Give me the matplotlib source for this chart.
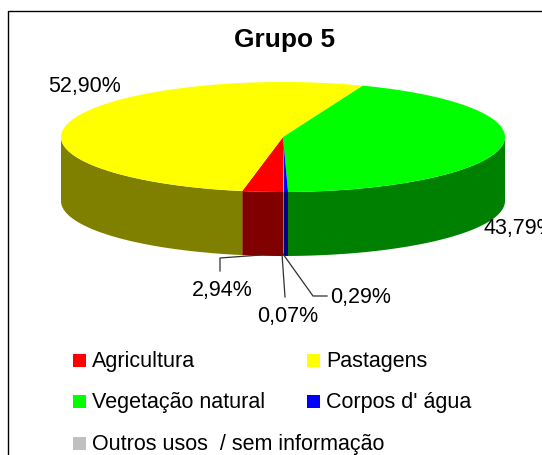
import matplotlib.pyplot as plt
from matplotlib.patches import Polygon, Rectangle
import numpy as np

plt.rcParams['font.family'] = ['Liberation Sans', 'DejaVu Sans']

# land use shares, Grupo 5 (percent)
categories = ['Agricultura', 'Pastagens', 'Vegetação natural', 'Corpos d\' água',
              'Outros usos  / sem informação']
shares = [2.94, 52.90, 43.79, 0.29, 0.07]
top_colors = ['#FF0000', '#FFFF00', '#00FF00', '#0000FF', '#C0C0C0']
side_colors = ['#800000', '#808000', '#008000', '#000080', '#808080']

# where each value label sits (pixel coords, left / baseline)
label_pos = [(192, 296), (48, 92), (483, 234), (330, 303), (257, 322)]

# pie geometry in pixels
cx, cy = 283, 138
rx, ry = 222, 55
depth = 64
start = -90.0


def rim(t):
    t = np.radians(t)
    return cx + rx * np.cos(t), cy - ry * np.sin(t)


def arc(a, b, n=120):
    t = np.linspace(a, b, n)
    x, y = rim(t)
    return np.column_stack([x, y])


fig = plt.figure(figsize=(5.42, 4.56), dpi=100)
ax = fig.add_axes([0, 0, 1, 1])
ax.set_xlim(0, 542)
ax.set_ylim(456, 0)
ax.axis('off')

# chart frame (continues past the right and bottom edges)
ax.plot([8, 8, 560], [470, 12, 12], color='black', lw=1.0, clip_on=False)

vals = np.array(shares, dtype=float)
frac = vals / vals.sum()
edges = start - np.concatenate([[0], np.cumsum(frac)]) * 360

# walls of the front half first
for i in range(len(vals)):
    hi, lo = edges[i], edges[i + 1]
    for k in range(-2, 2):
        a0 = max(lo, -180 + 360 * k)
        a1 = min(hi, 0 + 360 * k)
        if a1 <= a0:
            continue
        top = arc(a0, a1)
        bottom = top[::-1] + [0, depth]
        ax.add_patch(Polygon(np.vstack([top, bottom]), closed=True,
                             facecolor=side_colors[i], edgecolor='none'))

# then the top face wedges
for i in range(len(vals)):
    hi, lo = edges[i], edges[i + 1]
    pts = np.vstack([[cx, cy], arc(lo, hi, 200)])
    ax.add_patch(Polygon(pts, closed=True, facecolor=top_colors[i],
                         edgecolor='none'))

# value labels
for v, (x, y) in zip(shares, label_pos):
    ax.text(x, y, f'{v:.2f}%'.replace('.', ','), fontsize=15.5,
            ha='left', va='baseline')

# leader lines for the narrow slices
ax.plot([220, 220, 261], [272, 259, 256], color='#303030', lw=0.9)
ax.plot([282, 285], [255, 298], color='#303030', lw=0.9)
ax.plot([283, 313, 327], [255, 297, 297], color='#303030', lw=0.9)

ax.text(285, 47, 'Grupo 5', fontsize=19, fontweight='bold',
        ha='center', va='baseline')

# legend, two columns
col_x = [73, 307]
row_y = [368, 409, 451]
for i, name in enumerate(categories):
    x = col_x[i % 2]
    y = row_y[i // 2]
    ax.add_patch(Rectangle((x, y - 13), 13, 13, facecolor=top_colors[i],
                           edgecolor='none'))
    ax.text(x + 19, y - 1, name, fontsize=15.5, ha='left', va='baseline')

fig.savefig('out.png', dpi=100)
